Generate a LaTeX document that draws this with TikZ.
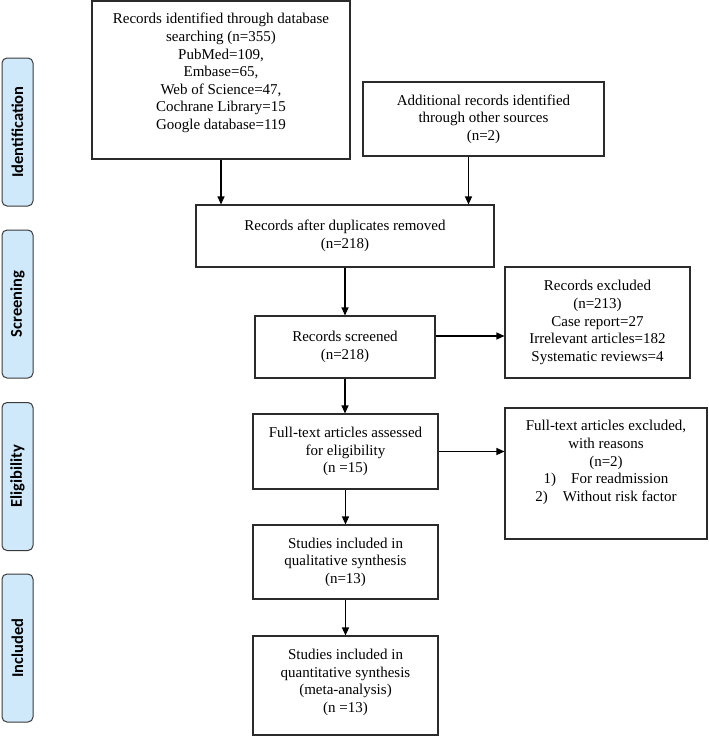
\documentclass[tikz,border=0pt]{standalone}
\usepackage{fontspec}
\setmainfont{Liberation Serif}
\newfontfamily\labfont{Carlito}
\usetikzlibrary{arrows.meta}
\definecolor{labfill}{HTML}{CFE9FB}
\definecolor{labdraw}{HTML}{3A3A3A}
\definecolor{boxdraw}{HTML}{2B2B2B}
\begin{document}
\begin{tikzpicture}[x=1pt,y=-1pt,
  box/.style={draw=boxdraw, line width=1.1pt, align=center, inner sep=0pt,
    font=\fontsize{15}{17.6}\selectfont},
  txt/.style={align=center, inner sep=0pt, font=\fontsize{15}{17.6}\selectfont},
  stage/.style={draw=labdraw, fill=labfill, rounded corners=5pt, line width=1pt,
    rotate=90, minimum height=31pt, minimum width=148pt, inner sep=0pt,
    font=\labfont\bfseries\fontsize{16.5}{16.5}\selectfont},
  arr/.style={-{Triangle[length=8pt,width=7pt]}, line width=1.1pt}]
\useasboundingbox (0,0) rectangle (709,736);

% stage labels
\node[stage] (sid) at (17.5,132) {Identification};
\node[stage] (ssc) at (17.5,304) {Screening};
\node[stage] (sel) at (17.5,476.5) {Eligibility};
\node[stage] (sin) at (17.5,648) {Included};

% boxes
\node[box, minimum width=258pt, minimum height=158pt,
  label={[txt, yshift=7pt]center:{Records identified through database\\searching (n=355)\\PubMed=109,\\Embase=65,\\Web of Science=47,\\Cochrane Library=15\\Google database=119}}]
  (b1) at (221,80) {};
\node[box, minimum width=241pt, minimum height=74pt] (b2) at (483.5,119)
  {Additional records identified\\through other sources\\(n=2)};
\node[box, minimum width=298pt, minimum height=62pt] (b3) at (345,236)
  {Records after duplicates removed\\(n=218)};
\node[box, minimum width=180pt, minimum height=62pt] (b4) at (345,347)
  {Records screened\\(n=218)};
\node[box, minimum width=185pt, minimum height=111pt] (b5) at (597.5,322.5)
  {Records excluded\\(n=213)\\Case report=27\\Irrelevant articles=182\\Systematic reviews=4};
\node[box, minimum width=185pt, minimum height=75pt] (b6) at (345.5,451.5)
  {Full-text articles assessed\\for eligibility\\(n =15)};
\node[box, minimum width=202pt, minimum height=131pt,
  label={[txt, yshift=11pt]center:{Full-text articles excluded,\\with reasons\\(n=2)\\1)\quad For readmission\\2)\quad Without risk factor}}]
  (b7) at (606,473.5) {};
\node[box, minimum width=185pt, minimum height=74pt] (b8) at (345.5,562)
  {Studies included in\\qualitative synthesis\\(n=13)};
\node[box, minimum width=185pt, minimum height=99pt,
  label={[txt, yshift=3pt]center:{Studies included in\\quantitative synthesis\\(meta-analysis)\\(n =13)}}]
  (b9) at (345.5,685.5) {};

% connectors
\draw[arr] (b1.south) -- (b1.south |- b3.north);
\draw[arr] ([xshift=-15pt]b2.south) -- ([xshift=-15pt]b2.south |- b3.north);
\draw[arr] (b3.south) -- (b3.south |- b4.north);
\draw[arr] ([yshift=11pt]b4.east) -- ([yshift=11pt]b4.east -| b5.west);
\draw[arr] (b4.south) -- (b4.south |- b6.north);
\draw[arr] (b6.east) -- (b6.east -| b7.west);
\draw[arr] (b6.south) -- (b6.south |- b8.north);
\draw[arr] (b8.south) -- (b8.south |- b9.north);
\end{tikzpicture}
\end{document}
